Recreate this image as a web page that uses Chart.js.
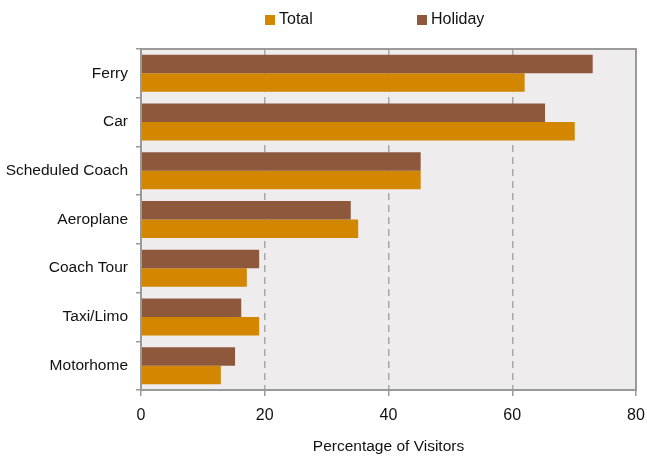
<!DOCTYPE html>
<html>
<head>
<meta charset="utf-8">
<script src="https://cdn.jsdelivr.net/npm/chart.js@4/dist/chart.umd.min.js"></script>
<style>
html,body{margin:0;padding:0;background:#fff;}
#wrap{width:647px;height:456px;position:relative;}
</style>
</head>
<body>
<div id="wrap"><canvas id="c" width="647" height="456"></canvas></div>
<script>
const categories = ["Ferry", "Car", "Scheduled Coach", "Aeroplane", "Coach Tour", "Taxi/Limo", "Motorhome"];
const holidayValues = [73.0, 65.3, 45.2, 33.9, 19.1, 16.2, 15.2];
const totalValues = [62.0, 70.1, 45.2, 35.1, 17.1, 19.1, 12.9];
const xTicks = [0, 20, 40, 60, 80];
const axisTitle = "Percentage of Visitors";
const legendOrder = ["Total", "Holiday"];

const FONT = "'Liberation Sans', Arial, sans-serif";
const COLORS = { Holiday: "#8E583D", Total: "#D38600" };

const framePlugin = {
  id: 'frame',
  beforeDraw(chart) {
    const {ctx, chartArea: a} = chart;
    ctx.save();
    ctx.fillStyle = '#EEECED';
    ctx.fillRect(a.left, a.top, a.right - a.left, a.bottom - a.top);
    ctx.restore();
  },
  afterDraw(chart) {
    const {ctx, chartArea: a} = chart;
    ctx.save();
    ctx.strokeStyle = '#9A9A9A';
    ctx.lineWidth = 2;
    ctx.strokeRect(a.left, a.top, a.right - a.left, a.bottom - a.top);
    // custom legend
    ctx.font = "16px " + FONT;
    ctx.textBaseline = 'middle';
    ctx.textAlign = 'left';
    const pos = [265, 417];
    legendOrder.forEach((name, i) => {
      const ds = chart.data.datasets.find(d => d.label === name);
      ctx.fillStyle = ds.backgroundColor;
      ctx.fillRect(pos[i], 15, 10, 10);
      ctx.fillStyle = '#111';
      ctx.fillText(name, pos[i] + 14, 20);
    });
    ctx.restore();
  }
};

new Chart(document.getElementById('c'), {
  type: 'bar',
  data: {
    labels: categories,
    datasets: [
      { label: 'Holiday', data: holidayValues, backgroundColor: COLORS.Holiday, borderWidth: 0,
        categoryPercentage: 0.76, barPercentage: 1.0 },
      { label: 'Total', data: totalValues, backgroundColor: COLORS.Total, borderWidth: 0,
        categoryPercentage: 0.76, barPercentage: 1.0 }
    ]
  },
  options: {
    indexAxis: 'y',
    responsive: false,
    animation: false,
    devicePixelRatio: 1,
    layout: { padding: { top: 49, right: 11, left: 0, bottom: 0 } },
    plugins: { legend: { display: false }, tooltip: { enabled: false } },
    scales: {
      x: {
        min: 0, max: 80,
        afterBuildTicks(scale) { scale.ticks = xTicks.map(v => ({ value: v })); },
        afterFit(scale) { scale.height = 66; scale.paddingRight = 0; scale.paddingLeft = 0; },
        grid: { color: '#A8A8A8', lineWidth: 1.5, tickLength: 6, tickColor: '#9A9A9A',
                tickBorderDash: [], tickWidth: 1.5 },
        border: { display: false, dash: [7, 5] },
        ticks: { color: '#111', font: { family: FONT, size: 16 }, padding: 10 },
        title: { display: true, text: axisTitle, color: '#111',
                 font: { family: FONT, size: 15.5 }, padding: { top: 8, bottom: 0 } }
      },
      y: {
        afterFit(scale) { scale.width = 141; scale.paddingTop = 0; scale.paddingBottom = 0; },
        grid: { display: true, drawOnChartArea: false, offset: true, tickLength: 5,
                color: '#9A9A9A', lineWidth: 1.5 },
        border: { display: false },
        ticks: { color: '#111', font: { family: FONT, size: 15.5 }, padding: 8 }
      }
    }
  },
  plugins: [framePlugin]
});
</script>
</body>
</html>
